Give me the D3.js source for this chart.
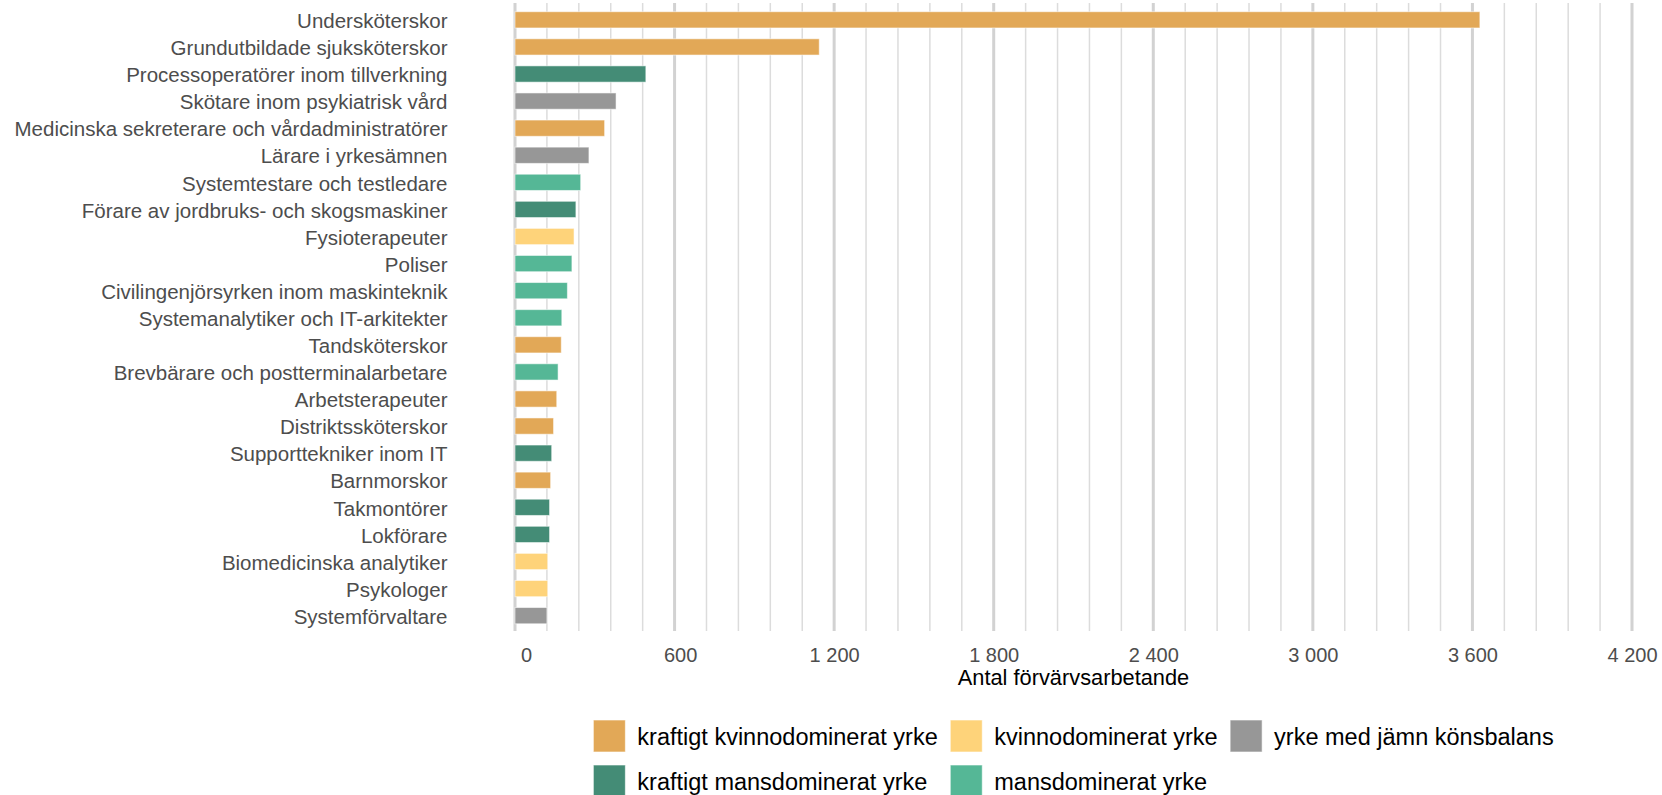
<!DOCTYPE html>
<html>
<head>
<meta charset="utf-8">
<script src="https://cdn.jsdelivr.net/npm/d3@7/dist/d3.min.js"></script>
<style>
  html, body { margin: 0; padding: 0; background: #ffffff; }
  svg { display: block; font-family: "Liberation Sans", Arial, sans-serif; }
</style>
</head>
<body>
<svg id="chart" width="1662" height="795"></svg>
<script>
// ---- data ----
const categories = [
  "Undersköterskor",
  "Grundutbildade sjuksköterskor",
  "Processoperatörer inom tillverkning",
  "Skötare inom psykiatrisk vård",
  "Medicinska sekreterare och vårdadministratörer",
  "Lärare i yrkesämnen",
  "Systemtestare och testledare",
  "Förare av jordbruks- och skogsmaskiner",
  "Fysioterapeuter",
  "Poliser",
  "Civilingenjörsyrken inom maskinteknik",
  "Systemanalytiker och IT-arkitekter",
  "Tandsköterskor",
  "Brevbärare och postterminalarbetare",
  "Arbetsterapeuter",
  "Distriktssköterskor",
  "Supporttekniker inom IT",
  "Barnmorskor",
  "Takmontörer",
  "Lokförare",
  "Biomedicinska analytiker",
  "Psykologer",
  "Systemförvaltare"
];
const values = [3628, 1144, 492, 380, 337, 278, 247, 229, 222, 214, 197, 176, 174, 162, 157, 145, 138, 134, 130, 130, 123, 123, 120];
const groups = ["kk", "kk", "km", "j", "kk", "j", "m", "km", "k", "m", "m", "m", "kk", "m", "kk", "kk", "km", "kk", "km", "km", "k", "k", "j"];

const groupKeys = ["kk", "k", "j", "km", "m"];
const groupLabels = [
  "kraftigt kvinnodominerat yrke",
  "kvinnodominerat yrke",
  "yrke med jämn könsbalans",
  "kraftigt mansdominerat yrke",
  "mansdominerat yrke"
];
const groupColors = ["#E2A857", "#FED37A", "#979797", "#448C76", "#55B796"];

const tickValues = [0, 600, 1200, 1800, 2400, 3000, 3600, 4200];
const tickLabels = ["    0", "  600", "1 200", "1 800", "2 400", "3 000", "3 600", "4 200"];
const minorStep = 120;
const xTitle = "Antal förvärvsarbetande";

// ---- layout ----
const svg = d3.select("#chart");
const panel = { left: 515, right: 1632, top: 3, bottom: 631 };

const x = d3.scaleLinear().domain([0, 4200]).range([panel.left, panel.right]);
const y = d3.scaleBand().domain(categories).range([6.3, 629.2]).paddingInner(0.4).paddingOuter(0.2);
const color = d3.scaleOrdinal().domain(groupKeys).range(groupColors);

// grid
const minorVals = d3.range(0, 4200 + 1, minorStep).filter(v => v % 600 !== 0);
svg.append("g").selectAll("line").data(minorVals).join("line")
  .attr("x1", d => x(d)).attr("x2", d => x(d))
  .attr("y1", panel.top).attr("y2", panel.bottom)
  .attr("stroke", "#DCDCDC").attr("stroke-width", 1.5);
svg.append("g").selectAll("line").data(tickValues).join("line")
  .attr("x1", d => x(d)).attr("x2", d => x(d))
  .attr("y1", panel.top).attr("y2", panel.bottom)
  .attr("stroke", "#D2D2D2").attr("stroke-width", 3);

// bars
svg.append("g").selectAll("rect").data(categories).join("rect")
  .attr("x", x(0))
  .attr("y", d => y(d))
  .attr("width", (d, i) => x(values[i]) - x(0))
  .attr("height", y.bandwidth())
  .attr("fill", (d, i) => color(groups[i]))
  .attr("stroke", "rgba(255,255,255,0.55)")
  .attr("stroke-width", 1);

// y axis labels
const yAxis = d3.axisLeft(y).tickSize(0).tickPadding(0);
const yg = svg.append("g").attr("transform", "translate(447.5,0)").call(yAxis);
yg.select(".domain").remove();
yg.selectAll("text")
  .attr("fill", "#4D4D4D")
  .style("font-size", "20.5px")
  .attr("dy", "0.4em");

// x axis
const xAxis = d3.axisBottom(x).tickValues(tickValues).tickSize(0).tickPadding(0)
  .tickFormat((d, i) => tickLabels[i]);
const xg = svg.append("g").attr("transform", "translate(0,646)").call(xAxis);
xg.select(".domain").remove();
xg.selectAll("text")
  .attr("fill", "#4D4D4D")
  .style("font-size", "20px")
  .style("white-space", "pre")
  .attr("y", 0)
  .attr("dy", "15.7px");

// x title
svg.append("text")
  .attr("x", (panel.left + panel.right) / 2)
  .attr("y", 685)
  .attr("text-anchor", "middle")
  .attr("fill", "#000")
  .style("font-size", "21.8px")
  .text(xTitle);

// legend (3 columns, by row)
const legend = svg.append("g");
const fs = 23.5, sw = 32, gapText = 12, gapCol = 12.5, rowH = 45;
const nCol = 3;
const measure = svg.append("text").style("font-size", fs + "px");
const widths = groupLabels.map(t => { measure.text(t); return measure.node().getComputedTextLength(); });
measure.remove();
const colW = [];
for (let c = 0; c < nCol; c++) {
  let w = 0;
  groupLabels.forEach((t, i) => { if (i % nCol === c) w = Math.max(w, widths[i]); });
  colW.push(sw + gapText + w);
}
const totalW = d3.sum(colW) + gapCol * (nCol - 1);
const lx0 = (panel.left + panel.right) / 2 - totalW / 2;
const colX = [];
let acc = lx0;
for (let c = 0; c < nCol; c++) { colX.push(acc); acc += colW[c] + gapCol; }
const ly0 = 720;
groupKeys.forEach((k, i) => {
  const c = i % nCol, r = Math.floor(i / nCol);
  const gx = colX[c], gy = ly0 + r * rowH;
  legend.append("rect")
    .attr("x", gx).attr("y", gy).attr("width", sw).attr("height", sw)
    .attr("fill", groupColors[i])
    .attr("stroke", "rgba(255,255,255,0.6)").attr("stroke-width", 1);
  legend.append("text")
    .attr("x", gx + sw + gapText).attr("y", gy + 25)
    .attr("fill", "#000")
    .style("font-size", fs + "px")
    .text(groupLabels[i]);
});
</script>
</body>
</html>
